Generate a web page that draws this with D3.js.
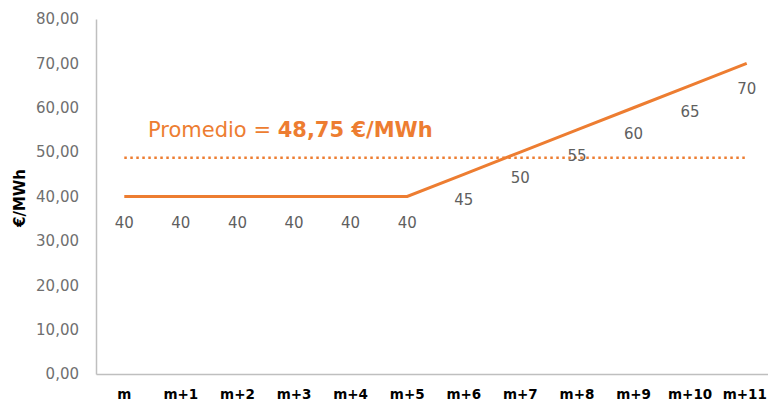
<!DOCTYPE html>
<html><head><meta charset="utf-8">
<script src="https://cdn.jsdelivr.net/npm/d3@7"></script>
<style>body{margin:0;background:#fff}svg{display:block}</style>
</head><body>
<svg id="c" width="768" height="405"></svg>
<script>
const categories = ["m","m+1","m+2","m+3","m+4","m+5","m+6","m+7","m+8","m+9","m+10","m+11"];
const prices = [40,40,40,40,40,40,45,50,55,60,65,70];
const average = 48.75;
const yTicks = [0,10,20,30,40,50,60,70,80];
const yTitle = "€/MWh";
const avgLabelPrefix = "Promedio = ";
const avgLabelValue = "48,75 €/MWh";

const svg = d3.select("#c");
const font = "'DejaVu Sans', sans-serif";
const orange = "#ED7D31";
const x = d3.scaleBand().domain(categories).range([96, 775]);
const y = d3.scaleLinear().domain([0, 80]).range([374, 19]);
const fmt = v => d3.format(".2f")(v).replace(".", ",");

// y axis
const ya = svg.append("g").attr("transform","translate(96,0)")
  .call(d3.axisLeft(y).tickValues(yTicks).tickSize(0).tickPadding(17).tickFormat(fmt));
ya.select(".domain").attr("stroke","#BFBFBF").attr("stroke-width",1.5);
ya.selectAll("text").attr("font-family",font).attr("font-size",15).attr("fill","#6f6f6f");

// x axis
const xa = svg.append("g").attr("transform","translate(0,374)")
  .call(d3.axisBottom(x).tickSize(0).tickPadding(15));
xa.select(".domain").attr("stroke","#BFBFBF").attr("stroke-width",1.5);
xa.selectAll("text").attr("font-family",font).attr("font-size",13.5).attr("font-weight","bold").attr("fill","#000");
xa.selectAll(".tick").filter(d => d === categories[categories.length-1]).select("text").attr("dx", -2);

// y title
svg.append("text").attr("transform","translate(25,198) rotate(-90)")
  .attr("text-anchor","middle").attr("font-family",font).attr("font-size",15)
  .attr("font-weight","bold").attr("fill","#000").text(yTitle);

const cx = d => x(d) + x.bandwidth()/2;

// average dotted line
svg.append("line")
  .attr("x1", cx(categories[0])).attr("x2", cx(categories[categories.length-1]))
  .attr("y1", y(average)).attr("y2", y(average))
  .attr("stroke", orange).attr("stroke-width", 2.5)
  .attr("stroke-dasharray", "2.5,3.5");

// average label
const t = svg.append("text").attr("x",148).attr("y",137)
  .attr("font-family",font).attr("font-size",21).attr("fill",orange);
t.append("tspan").text(avgLabelPrefix);
t.append("tspan").attr("font-weight","bold").text(avgLabelValue);

// price line
svg.append("path").datum(prices.map((v,i)=>[categories[i],v]))
  .attr("fill","none").attr("stroke",orange).attr("stroke-width",3)
  .attr("d", d3.line().x(d=>cx(d[0])).y(d=>y(d[1])));

// data labels
svg.append("g").selectAll("text").data(prices).join("text")
  .attr("x",(d,i)=>cx(categories[i])).attr("y",d=>y(d)+31)
  .attr("text-anchor","middle").attr("font-family",font).attr("font-size",15)
  .attr("fill","#5f5f5f").text(d=>d);
</script>
</body></html>
